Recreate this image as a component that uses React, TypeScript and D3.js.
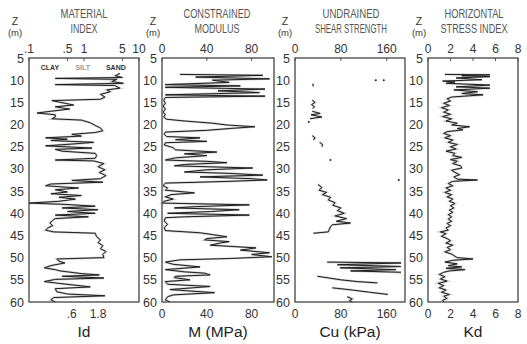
import React from 'react';
import * as d3 from 'd3';

// depth axis (m)
const depthTicks = [5, 10, 15, 20, 25, 30, 35, 40, 45, 50, 55, 60];

// material index Id, [depth, Id]
const idData: [number, number][] = [
  [8.5, 4.5], [9.0, 3.7], [9.4, 5.0], [9.6, 0.3], [9.8, 4.0], [10.3, 3.2], [10.7, 5.2], [11.0, 0.3],
  [11.2, 3.6], [11.8, 4.5], [12.2, 2.6], [12.6, 3.0], [13.2, 2.0], [13.8, 2.4], [14.3, 2.0], [14.6, 0.26],
  [15.2, 0.45], [15.6, 0.65], [16.0, 0.3], [16.5, 0.55], [17.0, 0.25], [17.4, 0.14], [17.8, 0.3], [18.3, 0.3],
  [18.7, 0.26], [19.0, 0.9], [19.6, 1.3], [20.2, 1.6], [20.8, 2.0], [21.4, 2.2], [21.8, 1.6], [22.2, 0.6],
  [22.6, 0.9], [23.0, 0.2], [23.3, 0.5], [23.6, 0.25], [24.0, 1.5], [24.4, 0.6], [24.8, 0.2], [25.3, 1.4],
  [25.6, 0.3], [26.0, 0.4], [26.5, 1.6], [27.0, 1.7], [27.6, 1.6], [28.0, 0.3], [28.2, 1.5], [28.8, 2.3],
  [29.5, 1.8], [30.2, 2.4], [30.8, 1.9], [31.5, 2.5], [32.2, 2.0], [32.6, 0.6], [33.0, 2.2], [33.4, 0.25],
  [33.8, 0.2], [34.3, 0.8], [34.7, 0.3], [35.2, 0.5], [35.6, 0.25], [36.0, 0.9], [36.4, 0.35], [36.8, 0.7],
  [37.3, 0.35], [37.7, 0.1], [38.0, 0.45], [38.4, 1.6], [38.8, 0.4], [39.2, 1.8], [39.6, 0.5], [40.0, 1.6],
  [40.4, 0.3], [40.8, 1.2], [41.2, 0.3], [41.6, 0.27], [42.2, 0.24], [42.8, 0.27], [43.3, 0.22], [43.8, 0.2],
  [44.2, 0.28], [44.5, 1.6], [45.3, 1.7], [46.0, 2.0], [46.6, 1.8], [47.3, 2.2], [48.0, 2.0], [48.6, 2.5],
  [49.3, 2.2], [50.0, 2.3], [50.3, 0.32], [50.8, 0.35], [51.2, 0.45], [51.8, 0.25], [52.3, 0.19], [52.7, 0.3],
  [53.0, 0.37], [53.6, 0.9], [53.9, 1.9], [54.2, 0.4], [54.6, 2.3], [54.9, 0.3], [55.4, 0.19], [55.8, 0.35],
  [56.6, 1.3], [57.0, 0.3], [57.7, 0.32], [58.2, 0.5], [58.6, 2.4], [59.0, 0.28], [59.5, 0.25], [60.0, 0.3],
];

// constrained modulus M (MPa), [depth, M]
const mData: [number, number][] = [
  [8.7, 16], [8.9, 90], [9.3, 30], [9.7, 96], [10.0, 45], [10.5, 60], [11.0, 2.7], [11.3, 70],
  [11.6, 3], [12.0, 92], [12.4, 50], [12.8, 87], [13.3, 3], [13.6, 92], [13.9, 3], [14.5, 1.5],
  [15.2, 3], [15.8, 1], [16.5, 3], [17.2, 1], [17.8, 3], [18.3, 1.5], [18.8, 4], [19.2, 20],
  [19.7, 45], [20.1, 58], [20.5, 83], [20.9, 60], [21.3, 40], [21.7, 3], [22.2, 2], [22.7, 4],
  [23.0, 34], [23.4, 12], [23.8, 40], [24.1, 3], [24.6, 2], [25.2, 10], [25.7, 12], [26.2, 49],
  [26.6, 20], [27.0, 40], [27.5, 12], [28.0, 3], [28.3, 40], [28.6, 58], [29.0, 20], [29.3, 11],
  [29.8, 81], [30.2, 40], [30.7, 20], [31.0, 60], [31.4, 90], [31.8, 34], [32.2, 80], [32.5, 94],
  [32.8, 60], [33.2, 3], [33.8, 1], [34.3, 5], [34.8, 3], [35.4, 29], [35.8, 8], [36.3, 3],
  [36.8, 10], [37.3, 2], [37.7, 0], [38.1, 78], [38.5, 30], [38.8, 11], [39.2, 69], [39.6, 44],
  [40.0, 5], [40.4, 78], [40.8, 20], [41.0, 3], [41.8, 2], [42.5, 5], [43.2, 2], [43.9, 3],
  [44.4, 34], [44.8, 45], [45.3, 58], [45.7, 40], [46.0, 38], [46.4, 60], [46.7, 52], [47.2, 43],
  [47.8, 84], [48.3, 70], [48.9, 96], [49.3, 80], [49.8, 98], [50.2, 60], [50.5, 16], [51.0, 3],
  [51.5, 10], [52.1, 34], [52.7, 3], [53.2, 20], [53.5, 38], [53.9, 43], [54.2, 12], [54.5, 11],
  [55.0, 25], [55.4, 3], [56.0, 5], [56.5, 43], [57.2, 7], [57.9, 47], [58.4, 10], [58.8, 5],
  [59.5, 3], [60.0, 7],
];

// undrained shear strength Cu (kPa), broken into the measured stretches
const cuSegments: [number, number][][] = [
  [[10.8, 31], [11.4, 32]],
  [[14.5, 30], [15.0, 35], [15.5, 29], [16.0, 34], [16.4, 31]],
  [[17.0, 30], [17.5, 44], [17.8, 28], [18.3, 47], [18.7, 26]],
  [[22.5, 30], [23.0, 35], [23.5, 32]],
  [[24.0, 43], [24.5, 48], [25.0, 47]],
  [[33.5, 40], [34.2, 47], [34.8, 42], [35.3, 55], [35.8, 48], [36.4, 62], [37.0, 58], [37.6, 70],
   [38.2, 66], [38.8, 80], [39.4, 74], [40.0, 86], [40.6, 70], [41.2, 90], [41.8, 72], [42.2, 97],
   [42.6, 65], [43.0, 62], [43.6, 60], [44.2, 58], [44.5, 32]],
  [[51.0, 56], [51.2, 185], [51.6, 74], [52.0, 185], [52.3, 79], [52.7, 176], [53.0, 97], [53.3, 185]],
  [[54.2, 39], [54.6, 60], [55.0, 80], [55.4, 109], [55.7, 144]],
  [[56.8, 65], [57.3, 100], [57.8, 130], [58.3, 162]],
  [[58.8, 91], [59.3, 100], [59.7, 95], [60.0, 100]],
];
const cuDots: [number, number][] = [[10, 141], [10, 155], [19.4, 24], [28, 62], [32.5, 181]];

// horizontal stress index Kd, [depth, Kd]
const kdData: [number, number][] = [
  [8.7, 1.5], [8.8, 5.5], [9.0, 3], [9.2, 5.5], [9.5, 2.5], [9.9, 4.8], [10.2, 1.3], [10.4, 2.4],
  [10.7, 1.6], [11.1, 5.5], [11.5, 2.5], [11.8, 5.5], [12.2, 2.3], [12.6, 4.4], [13.0, 3.0], [13.3, 4.9],
  [13.8, 2.1], [14.2, 1.7], [14.7, 2.0], [15.2, 1.4], [15.7, 1.9], [16.2, 1.2], [16.7, 1.8], [17.2, 1.4],
  [17.7, 2.0], [18.2, 1.3], [18.7, 2.1], [19.2, 1.6], [19.7, 2.6], [20.1, 2.1], [20.5, 3.7], [20.9, 2.6],
  [21.2, 3.1], [21.6, 1.7], [22.0, 1.4], [22.5, 2.0], [23.0, 1.5], [23.5, 2.2], [24.0, 1.8], [24.5, 2.6],
  [25.0, 2.0], [25.5, 2.5], [26.0, 1.6], [26.5, 2.4], [27.0, 2.2], [27.4, 3.0], [27.9, 2.0], [28.3, 2.6],
  [28.8, 2.2], [29.3, 2.9], [29.8, 3.0], [30.3, 2.1], [30.8, 2.4], [31.3, 2.8], [31.8, 2.3], [32.3, 2.6],
  [32.5, 4.4], [32.8, 2.2], [33.3, 1.8], [33.8, 2.2], [34.3, 1.6], [34.8, 2.0], [35.3, 1.5], [35.8, 2.1],
  [36.3, 1.7], [36.8, 2.2], [37.3, 1.9], [37.8, 2.4], [38.3, 2.0], [38.8, 2.3], [39.3, 1.9], [39.8, 2.2],
  [40.3, 1.8], [40.8, 2.1], [41.3, 1.8], [41.8, 2.1], [42.3, 1.7], [42.8, 2.0], [43.3, 1.6], [43.8, 1.8],
  [44.2, 1.1], [44.6, 1.6], [45.2, 1.2], [45.7, 1.7], [46.2, 2.0], [46.7, 1.6], [47.2, 2.2], [47.7, 1.7],
  [48.2, 2.0], [48.7, 1.5], [49.2, 2.1], [49.7, 2.4], [50.0, 2.6], [50.3, 4.0], [50.6, 2.2], [51.0, 1.5],
  [51.4, 2.6], [51.8, 1.8], [52.1, 3.0], [52.4, 1.6], [52.7, 3.3], [53.0, 1.9], [53.3, 1.4], [53.8, 1.0],
  [54.3, 1.5], [54.8, 1.1], [55.3, 1.7], [55.8, 0.9], [56.3, 1.4], [56.8, 1.0], [57.3, 1.6], [57.8, 1.2],
  [58.3, 1.9], [58.7, 1.4], [59.2, 1.7], [59.6, 1.3], [60.0, 1.4],
];

const idTopTicks = [0.1, 0.5, 1, 5, 10];
const idTopLabels = ['.1', '.5', '1', '5', '10'];
const idBottomTicks = [0.6, 1.8];
const idBottomLabels = ['.6', '1.8'];
const soilLabels = ['CLAY', 'SILT', 'SAND'];
const soilAt = [0.24, 0.95, 3.8];
const mTicks = [0, 40, 80];
const cuTicks = [0, 80, 160];
const kdTicks = [0, 2, 4, 6, 8];

const titles = [
  ['MATERIAL', 'INDEX'],
  ['CONSTRAINED', 'MODULUS'],
  ['UNDRAINED', 'SHEAR STRENGTH'],
  ['HORIZONTAL', 'STRESS INDEX'],
];
const xLabels = ['Id', 'M (MPa)', 'Cu (kPa)', 'Kd'];

const W = 527;
const H = 344;
const top = 58;
const bottom = 302;
const font = '"Liberation Sans", Arial, sans-serif';
// the scanned titles use a condensed face; squeeze them to the widths seen
const titleWidths = [[47, 27], [67, 45], [57, 72], [59, 67]];
const titleMid = [84, 217, 351, 474];
const zAt = [15, 153, 285, 419];

export default function App() {
  const y = d3.scaleLinear().domain([5, 60]).range([top, bottom]);

  const xs = [
    d3.scaleLog().domain([0.1, 10]).range([29, 139]),
    d3.scaleLinear().domain([0, 100]).range([162, 274]),
    d3.scaleLinear().domain([0, 192]).range([295, 405]),
    d3.scaleLinear().domain([0, 8]).range([428, 518]),
  ];

  const lineFor = (x: any) =>
    d3.line<[number, number]>().x(d => x(d[1])).y(d => y(d[0]));

  const topTicks = [
    idTopTicks.map((t, i) => ({ v: t, label: idTopLabels[i] })),
    mTicks.map(t => ({ v: t, label: String(t) })),
    cuTicks.map(t => ({ v: t, label: String(t) })),
    kdTicks.map(t => ({ v: t, label: String(t) })),
  ];
  const bottomTicks = [
    idBottomTicks.map((t, i) => ({ v: t, label: idBottomLabels[i] })),
    mTicks.map(t => ({ v: t, label: String(t) })),
    cuTicks.map(t => ({ v: t, label: String(t) })),
    kdTicks.map(t => ({ v: t, label: String(t) })),
  ];

  const stroke = '#1e1e1e';
  const under = '#9a9a9a';

  // a profile drawn twice: grey smear underneath, dark trace on top (scanned look)
  const profile = (d: string, key: string) => (
    <g key={key}>
      <path d={d} fill="none" stroke={under} strokeWidth={2.2} strokeOpacity={0.55} />
      <path d={d} fill="none" stroke={stroke} strokeWidth={1} />
    </g>
  );

  return (
    <svg width={W} height={H} style={{ position: 'absolute', left: 0, top: 0, background: '#fff' }}>
      {xs.map((x, p) => {
        const [x0, x1] = x.range();
        const mid = (x0 + x1) / 2;
        return (
          <g key={p}>
            {/* titles */}
            {titles[p].map((t, i) => (
              <text key={t} x={titleMid[p] - titleWidths[p][i] / 2} y={18 + i * 15} fontFamily={font}
                fontSize={10.5} fill="#555" textLength={titleWidths[p][i]} lengthAdjust="spacingAndGlyphs"
                transform={`translate(0 ${18 + i * 15}) scale(1 1.2) translate(0 ${-(18 + i * 15)})`}>
                {t}
              </text>
            ))}
            {/* Z (m) */}
            <text x={zAt[p]} y={25} textAnchor="middle" fontFamily={font} fontSize={10.5} fill="#333">Z</text>
            <text x={zAt[p]} y={36} textAnchor="middle" fontFamily={font} fontSize={9.5} fill="#333">(m)</text>
            {/* depth labels */}
            {depthTicks.map(d => (
              <text key={d} x={x0 - 5} y={y(d) + 4.5} textAnchor="end" fontFamily={font} fontSize={12.5} fill="#333">
                {d}
              </text>
            ))}
            {/* top tick labels */}
            {topTicks[p].map(t => (
              <g key={t.label}>
                <text x={x(t.v)} y={53} textAnchor="middle" fontFamily={font} fontSize={12} fill="#333">
                  {t.label}
                </text>
                <line x1={x(t.v)} x2={x(t.v)} y1={top} y2={top + 3} stroke="#555" />
              </g>
            ))}
            {/* bottom tick labels */}
            {bottomTicks[p].map(t => (
              <text key={t.label} x={x(t.v)} y={318} textAnchor="middle" fontFamily={font} fontSize={12} fill="#333">
                {t.label}
              </text>
            ))}
            <text x={mid} y={337} textAnchor="middle" fontFamily={font} fontSize={15.5} fill="#222">
              {xLabels[p]}
            </text>
            {/* frame */}
            <rect x={x0} y={top} width={x1 - x0} height={bottom - top} fill="none" stroke="#444" strokeWidth={1.3} />
          </g>
        );
      })}

      {/* soil class labels */}
      {soilLabels.map((s, i) => (
        <text key={s} x={xs[0](soilAt[i])} y={70} textAnchor="middle" fontFamily={font} fontSize={7}
          fontWeight="bold" fill={i === 1 ? '#999' : '#333'}>
          {s}
        </text>
      ))}

      {/* profiles */}
      {profile(lineFor(xs[0])(idData) || '', 'id')}
      {profile(lineFor(xs[1])(mData) || '', 'm')}
      {cuSegments.map((seg, i) => profile(lineFor(xs[2])(seg) || '', 'cu' + i))}
      {cuDots.map((d, i) => (
        <circle key={i} cx={xs[2](d[1])} cy={y(d[0])} r={1} fill={stroke} />
      ))}
      {profile(lineFor(xs[3])(kdData) || '', 'kd')}
    </svg>
  );
}
